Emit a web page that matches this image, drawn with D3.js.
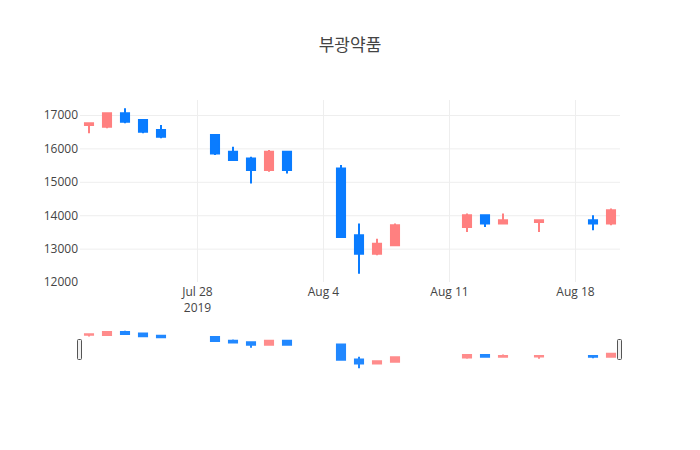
<!DOCTYPE html>
<html>
<head>
<meta charset="utf-8">
<script src="https://cdn.jsdelivr.net/npm/d3@7"></script>
<style>
  body { margin: 0; background: #fff; }
  svg text { font-family: "Open Sans", "Noto Sans CJK KR", sans-serif; fill: #444; }
</style>
</head>
<body>
<div id="chart"></div>
<script>
const title = '부광약품'
const dates = ['2019-07-22', '2019-07-23', '2019-07-24', '2019-07-25', '2019-07-26',
  '2019-07-29', '2019-07-30', '2019-07-31', '2019-08-01', '2019-08-02',
  '2019-08-05', '2019-08-06', '2019-08-07', '2019-08-08',
  '2019-08-12', '2019-08-13', '2019-08-14', '2019-08-16',
  '2019-08-19', '2019-08-20']
const opens = [16700, 16650, 17050, 16850, 16550, 16400, 15900, 15700, 15350, 15900,
  15400, 13400, 12850, 13100, 13650, 14000, 13750, 13800, 13850, 13750]
const highs = [16750, 17050, 17200, 16850, 16700, 16400, 16050, 15750, 15950, 15900,
  15500, 13750, 13300, 13750, 14050, 14000, 14050, 13850, 14000, 14200]
const lows = [16450, 16600, 16750, 16450, 16300, 15800, 15650, 14950, 15300, 15250,
  13350, 12250, 12800, 13100, 13500, 13650, 13750, 13500, 13550, 13700]
const closes = [16750, 17050, 16800, 16500, 16350, 15850, 15650, 15350, 15900, 15350,
  13350, 12850, 13150, 13700, 14000, 13750, 13850, 13850, 13750, 14150]
const yTicks = [12000, 13000, 14000, 15000, 16000, 17000]

const upColor = '#ff8080'
const downColor = '#0a7cff'

;(function() {
  const chartWidth = 700
  const chartHeight = 450
  const plot = { left: 80, right: 620, top: 100, bottom: 282 }
  const slider = { top: 329, bottom: 370 }
  const parse = d3.timeParse('%Y-%m-%d')

  const candles = dates.map((d, i) => ({
    date: parse(d),
    open: opens[i],
    high: highs[i],
    low: lows[i],
    close: closes[i],
  }))

  const x = d3.scaleTime()
    .domain([
      d3.timeHour.offset(candles[0].date, -12),
      d3.timeHour.offset(candles[candles.length - 1].date, 12),
    ])
    .range([plot.left, plot.right])

  // autorange-ish padding round the lows and highs
  const lo = d3.min(lows)
  const hi = d3.max(highs)
  const pad = (hi - lo) * 0.05
  const yDomain = [lo - pad, hi + pad]

  const y = d3.scaleLinear()
    .domain(yDomain)
    .range([plot.bottom, plot.top])

  const ySlider = d3.scaleLinear()
    .domain(yDomain)
    .range([slider.bottom, slider.top])

  const svg = d3.select('#chart')
    .append('svg')
      .attr('width', chartWidth)
      .attr('height', chartHeight)

  svg.append('text')
    .attr('x', chartWidth / 2)
    .attr('y', 51)
    .attr('text-anchor', 'middle')
    .attr('font-size', 17)
    .text(title)

  // y axis with grid
  const yAxis = svg.append('g')
    .attr('transform', `translate(${plot.left}, 0)`)
    .call(d3.axisLeft(y)
      .tickValues(yTicks)
      .tickFormat(d3.format('d'))
      .tickSize(-(plot.right - plot.left))
      .tickPadding(2))

  yAxis.select('.domain').remove()
  yAxis.selectAll('line')
    .attr('stroke', '#eee')
    .filter(d => Math.abs(y(d) - plot.bottom) < 1.5 || Math.abs(y(d) - plot.top) < 1.5)
    .remove()
  yAxis.selectAll('text')
    .attr('font-size', 12)
    .style('font-family', '"Open Sans", sans-serif')

  // x axis with grid
  const weeks = x.ticks(d3.timeWeek.every(1))
  const xAxis = svg.append('g')
    .attr('transform', `translate(0, ${plot.bottom})`)
    .call(d3.axisBottom(x)
      .tickValues(weeks)
      .tickFormat(d3.timeFormat('%b %-d'))
      .tickSize(-(plot.bottom - plot.top))
      .tickPadding(5))

  xAxis.select('.domain').remove()
  xAxis.selectAll('line').attr('stroke', '#eee')
  xAxis.selectAll('text')
    .attr('font-size', 12)
    .style('font-family', '"Open Sans", sans-serif')

  xAxis.select('.tick')
    .append('text')
      .attr('y', 21)
      .attr('dy', '0.71em')
      .attr('font-size', 12)
      .attr('fill', '#444')
      .style('font-family', '"Open Sans", sans-serif')
      .text(d3.timeFormat('%Y')(weeks[0]))

  // candle body + wicks as one path
  const halfDay = x(d3.timeHour.offset(candles[0].date, 6)) - x(candles[0].date)
  function candlePath(d, yScale) {
    const cx = x(d.date)
    const hw = halfDay * 0.9
    const yo = yScale(d.open)
    const yc = yScale(d.close)
    const top = Math.min(yo, yc)
    const bottom = Math.max(yo, yc)
    return `M${cx - hw},${yo}H${cx + hw}V${yc}H${cx - hw}Z` +
      `M${cx},${top}V${yScale(d.high)}M${cx},${bottom}V${yScale(d.low)}`
  }
  const color = d => d.close > d.open ? upColor : downColor

  svg.append('g')
    .selectAll('path')
    .data(candles)
    .enter()
    .append('path')
      .attr('d', d => candlePath(d, y))
      .attr('fill', color)
      .attr('stroke', color)
      .attr('stroke-width', 2)

  // range slider
  const sliderG = svg.append('g')

  sliderG.append('rect')
    .attr('x', plot.left)
    .attr('y', slider.top)
    .attr('width', plot.right - plot.left)
    .attr('height', slider.bottom - slider.top)
    .attr('fill', '#fff')

  sliderG.append('g')
    .selectAll('path')
    .data(candles)
    .enter()
    .append('path')
      .attr('d', d => candlePath(d, ySlider))
      .attr('fill', color)
      .attr('stroke', color)
      .attr('stroke-width', 2)
      .attr('opacity', 0.9)

  const handleH = 20
  const sliderMid = (slider.top + slider.bottom) / 2
  sliderG.selectAll('.grabber')
    .data(x.range())
    .enter()
    .append('rect')
      .attr('class', 'grabber')
      .attr('x', d => d - 2.5)
      .attr('y', sliderMid - handleH / 2)
      .attr('width', 4)
      .attr('height', handleH)
      .attr('rx', 1)
      .attr('fill', '#f2f2f2')
      .attr('stroke', '#555')
      .attr('stroke-width', 1)
})()
</script>
</body>
</html>
